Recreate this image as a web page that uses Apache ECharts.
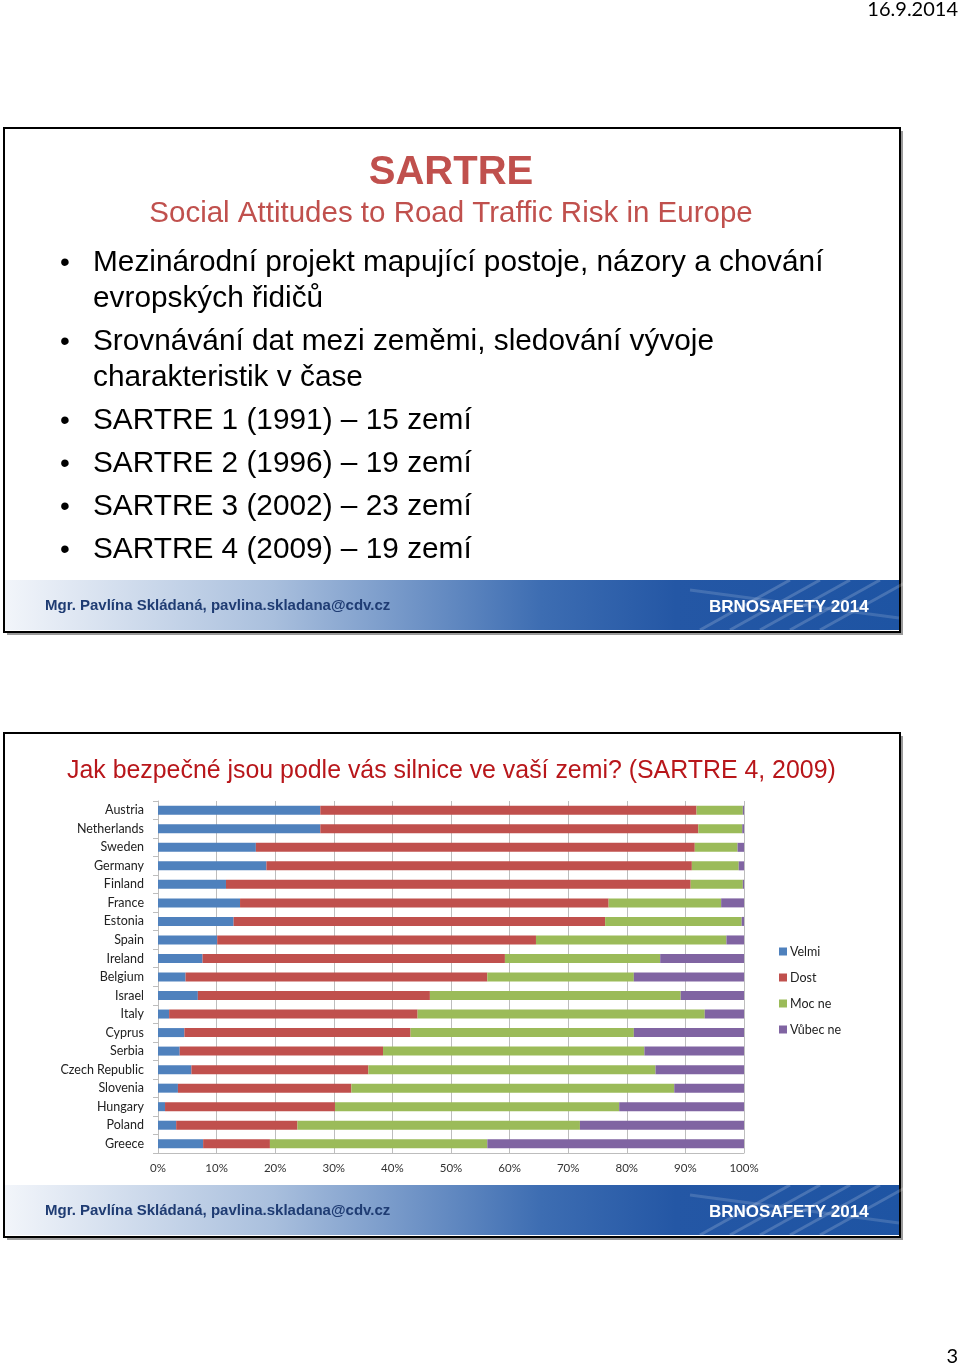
<!DOCTYPE html>
<html><head><meta charset="utf-8">
<script src="https://cdn.jsdelivr.net/npm/echarts@6/dist/echarts.min.js"></script>
<style>html,body{margin:0;padding:0;background:#fff}#c{width:960px;height:1368px}</style>
</head><body><div id="c"></div>
<script>
const categories = ['Austria','Netherlands','Sweden','Germany','Finland','France','Estonia','Spain','Ireland','Belgium','Israel','Italy','Cyprus','Serbia','Czech Republic','Slovenia','Hungary','Poland','Greece'];
const velmi  = [27.7,27.7,16.7,18.5,11.6,14.0,12.9,10.1,7.6,4.7,6.8,1.9,4.5,3.7,5.7,3.4,1.2,3.1,7.7];
const dost   = [64.2,64.5,74.9,72.6,79.3,62.9,63.4,54.4,51.6,51.5,39.6,42.4,38.6,34.7,30.2,29.6,29.0,20.7,11.4];
const mocNe  = [7.9,7.5,7.3,8.0,8.9,19.2,23.3,32.5,26.5,25.0,42.8,49.0,38.1,44.6,49.0,55.1,48.5,48.2,37.1];
const vubecNe= [0.2,0.3,1.1,0.9,0.2,3.9,0.4,3.0,14.3,18.8,10.8,6.7,18.8,17.0,15.1,11.9,21.3,28.0,43.8];
const seriesNames = ['Velmi','Dost','Moc ne','Vůbec ne'];
const xTicks = [0,10,20,30,40,50,60,70,80,90,100];
const bullets = [
  ['Mezinárodní projekt mapující postoje, názory a chování','evropských řidičů'],
  ['Srovnávání dat mezi zeměmi, sledování vývoje','charakteristik v čase'],
  ['SARTRE 1 (1991) – 15 zemí'],
  ['SARTRE 2 (1996) – 19 zemí'],
  ['SARTRE 3 (2002) – 23 zemí'],
  ['SARTRE 4 (2009) – 19 zemí']
];
const colors = ['#4f81bd','#c0504d','#9bbb59','#8064a2'];

const chart = echarts.init(document.getElementById('c'), null, {renderer:'canvas'});
const graphics = [];
const footerGrad = {type:'linear',x:0,y:0,x2:1,y2:0,colorStops:[
  {offset:0,color:'#f2f5fa'},{offset:0.3,color:'#a9bfdd'},{offset:0.6,color:'#3d6db2'},{offset:0.75,color:'#2457a5'},{offset:1,color:'#1e54a3'}]};
function slide(top){
  graphics.push({type:'rect',shape:{x:7,y:top+3,width:896,height:504},style:{fill:'#9a9a9a'},z:-10});
  graphics.push({type:'rect',shape:{x:4,y:top,width:896,height:504},style:{fill:'#fff',stroke:'#000',lineWidth:2},z:-9});
  graphics.push({type:'rect',shape:{x:5,y:top+452,width:894,height:50},style:{fill:footerGrad},z:-8});
  const lx=[700,730,760,790,820];
  lx.forEach((x)=>{
    graphics.push({type:'line',shape:{x1:x,y1:top+502,x2:x+90,y2:top+452},style:{stroke:'rgba(255,255,255,0.18)',lineWidth:3},z:-7});
  });
  graphics.push({type:'line',shape:{x1:690,y1:top+462,x2:899,y2:top+490},style:{stroke:'rgba(255,255,255,0.15)',lineWidth:3},z:-7});
  graphics.push({type:'text',x:45,y:top+478,style:{text:'Mgr. Pavlína Skládaná, pavlina.skladana@cdv.cz',font:'bold 15px "Liberation Sans Narrow","Liberation Sans",Arial',fill:'#1f3c73',textVerticalAlign:'middle'},z:-6});
  graphics.push({type:'text',x:709,y:top+479,style:{text:'BRNOSAFETY 2014',font:'bold 17px "Liberation Sans",Arial',fill:'#ffffff',textVerticalAlign:'middle'},z:-6});
}
slide(128);
slide(733);
graphics.push({type:'text',x:958,y:10,style:{text:'16.9.2014',font:'20px Lato,"Open Sans",sans-serif',fill:'#000',textAlign:'right',textVerticalAlign:'middle'}});
graphics.push({type:'text',x:958,y:1357,style:{text:'3',font:'20px Lato,"Open Sans",sans-serif',fill:'#000',textAlign:'right',textVerticalAlign:'middle'}});
graphics.push({type:'text',x:451,y:173,style:{text:'SARTRE',font:'bold 40px "Liberation Sans",Arial',fill:'#c0504d',textAlign:'center',textVerticalAlign:'middle'}});
graphics.push({type:'text',x:451,y:214,style:{text:'Social Attitudes to Road Traffic Risk in Europe',font:'29.5px "Liberation Sans",Arial',fill:'#c0504d',textAlign:'center',textVerticalAlign:'middle'}});
const lineYs = [[263,299],[342,378],[421],[464],[507],[550]];
bullets.forEach((b,i)=>{
  graphics.push({type:'text',x:60,y:lineYs[i][0],style:{text:'•',font:'28px "Liberation Sans",Arial',fill:'#000',textVerticalAlign:'middle'}});
  b.forEach((t,j)=>{
    graphics.push({type:'text',x:93,y:lineYs[i][j],style:{text:t,font:'29.8px "Liberation Sans",Arial',fill:'#000',textVerticalAlign:'middle'}});
  });
});
graphics.push({type:'text',x:67,y:771,style:{text:'Jak bezpečné jsou podle vás silnice ve vaší zemi? (SARTRE 4, 2009)',font:'24.9px "Liberation Sans",Arial',fill:'#b8161a',textVerticalAlign:'middle'}});

const data = [velmi,dost,mocNe,vubecNe];
chart.setOption({
  animation:false,
  backgroundColor:'#fff',
  color:colors,
  graphic:graphics,
  grid:{left:158,top:801,width:586,height:352,containLabel:false},
  legend:{orient:'vertical',left:774,top:940,itemWidth:8,itemHeight:8,itemGap:13,icon:'rect',
    textStyle:{fontFamily:'Lato,"Open Sans",sans-serif',fontSize:12.5,color:'#222',padding:[0,0,0,-2]},
    data:seriesNames},
  xAxis:{type:'value',min:0,max:100,interval:10,
    axisLabel:{formatter:v=>xTicks.indexOf(v)>=0?v+'%':'',fontFamily:'Lato,"Open Sans",sans-serif',fontSize:11.5,color:'#333',margin:9},
    splitLine:{show:true,lineStyle:{color:'#bdbdbd',width:1}},
    axisLine:{show:true,lineStyle:{color:'#bdbdbd'}},axisTick:{show:false}},
  yAxis:{type:'category',inverse:true,data:categories,
    axisLabel:{fontFamily:'Lato,"Open Sans",sans-serif',fontSize:12.5,color:'#222',margin:14},
    axisLine:{show:true,lineStyle:{color:'#bdbdbd'}},
    axisTick:{show:true,length:5,lineStyle:{color:'#bdbdbd'}}},
  series:data.map((d,i)=>({name:seriesNames[i],type:'bar',stack:'t',data:d,barWidth:9,
    itemStyle:{color:colors[i]}}))
});
</script></body></html>
